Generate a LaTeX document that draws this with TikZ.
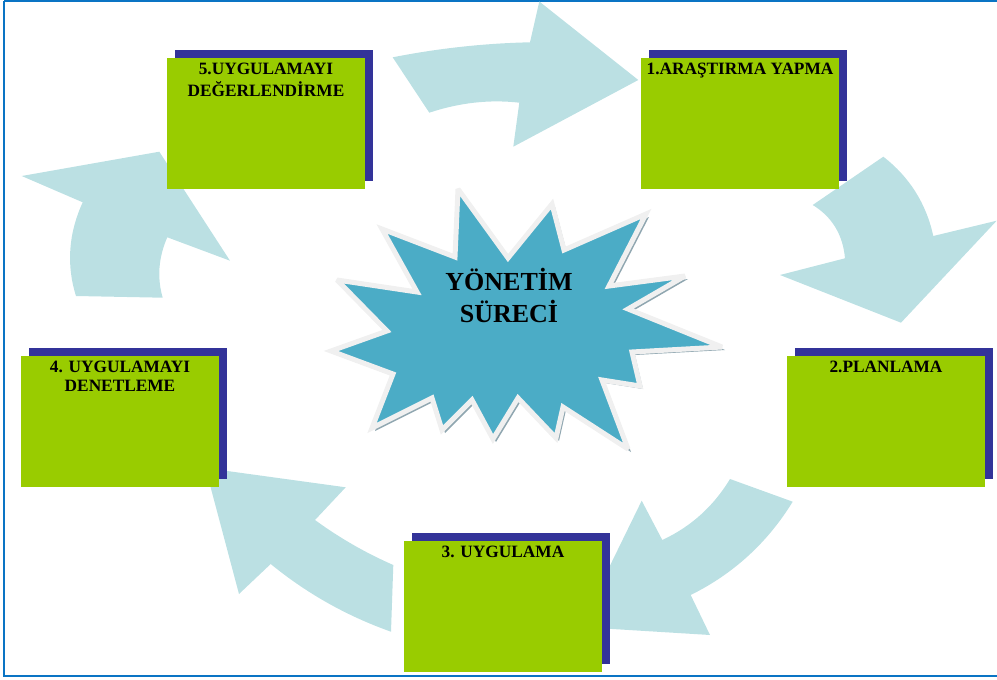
\documentclass[tikz,border=0pt]{standalone}
\usepackage{fontspec}
\setmainfont{Liberation Serif}
\usetikzlibrary{shadows}
\definecolor{arrowc}{HTML}{BBE0E3}
\definecolor{boxg}{HTML}{99CC00}
\definecolor{boxs}{HTML}{333399}
\definecolor{starf}{HTML}{4BACC6}
\definecolor{starsh}{HTML}{8FA6B0}
\definecolor{staredge}{HTML}{F0F0F0}
\definecolor{framec}{HTML}{0A74C4}
\begin{document}
\begin{tikzpicture}[x=1pt,y=-1pt,
  arrowshape/.style={fill=arrowc, draw=none},
  procbox/.style={fill=boxg, draw=none, minimum width=198pt, minimum height=131pt, inner sep=0pt,
    copy shadow={shadow xshift=8pt, shadow yshift=8pt, fill=boxs, draw=none}},
  boxtext/.style={anchor=north, inner sep=0pt, align=center, font=\fontsize{17.3}{19}\selectfont\bfseries},
  startext/.style={anchor=north, inner sep=0pt, align=center, font=\fontsize{26}{30}\selectfont\bfseries}]
\useasboundingbox (0,0) rectangle (997,680);
% frame
\draw[framec, line width=2pt] (4,1) -- (1005,1) (4,1) -- (4,676) -- (1005,676);
% arrows
\fill[arrowshape] (392.7,57.3) .. controls (438.5,48.3) and (484.2,43.3) .. (530,42.3) -- (539.3,1.5) -- (638.3,80) -- (513.3,146.7) -- (519.3,102.7) .. controls (489.3,99.3) and (459.3,102.7) .. (429.3,112.7) -- cycle;
\fill[arrowshape] (883.3,156.7) .. controls (909.6,177.1) and (926.2,203.6) .. (933.3,236) -- (996.7,220.7) -- (901,322.7) -- (780,275) -- (845,258.3) .. controls (843,235.2) and (832.3,216.9) .. (812.7,205) -- cycle;
\fill[arrowshape] (792.7,501.7) -- (730,479) .. controls (713.6,506.2) and (691.1,526.6) .. (662.3,540) -- (641.7,500.7) -- (580,627) -- (710,635) -- (690.7,595) .. controls (733.7,573.7) and (767.7,542.4) .. (792.7,501.7) -- cycle;
\fill[arrowshape] (393.3,565) -- (391,631.7) .. controls (347,616.1) and (306.9,593.6) .. (270.7,564) -- (239,594) -- (205.5,468) -- (345.7,487.3) -- (315,520) .. controls (339.5,537.9) and (365.6,552.9) .. (393.3,565) -- cycle;
\fill[arrowshape] (76,296) -- (162.7,297.7) .. controls (156.9,277.6) and (158.5,257.4) .. (167.3,237.3) -- (230,260.7) -- (159.3,151.7) -- (21.7,176) -- (82.7,202.3) .. controls (68.5,233.5) and (66.2,264.8) .. (76,296) -- cycle;
% boxes
\node[procbox] (b5) at (266,123.2) {};
\node[procbox] (b1) at (740,123.2) {};
\node[procbox] (b2) at (886,421.2) {};
\node[procbox] (b4) at (120,421.2) {};
\node[procbox] (b3) at (503,606.2) {};
\node[boxtext] (t5) at ([yshift=-3.5pt]b5.north) {\strut 5.UYGULAMAYI\\DEĞERLENDİRME};
\node[boxtext] (t1) at ([yshift=-3.5pt]b1.north) {\strut 1.ARAŞTIRMA YAPMA};
\node[boxtext] (t2) at ([yshift=-3.5pt]b2.north) {\strut 2.PLANLAMA};
\node[boxtext] (t4) at ([yshift=-3.5pt]b4.north) {\strut 4. UYGULAMAYI\\DENETLEME};
\node[boxtext] (t3) at ([yshift=-3.5pt]b3.north) {\strut 3. UYGULAMA};
% star
\def\starpath{(458,189) -- (508,258) -- (552,204) -- (564,250) -- (646,214) -- (609,286) -- (685,276) -- (628,309) -- (722,347) -- (632,352) -- (640,386) -- (602,380) -- (628,449) -- (563,407) -- (556,438) -- (518,398) -- (493,439) -- (472,400) -- (442,430) -- (432,398) -- (372,428) -- (393,374) -- (331,351) -- (387,331) -- (337,280) -- (417,292) -- (382,229) -- (455,257) -- cycle}
\fill[starsh, shift={(3,3)}] \starpath;
\filldraw[fill=starf, draw=staredge, line width=5pt, line join=miter, miter limit=3] \starpath;
\node[startext] (st) at (509,268) {\strut YÖNETİM\\SÜRECİ};
\end{tikzpicture}
\end{document}
